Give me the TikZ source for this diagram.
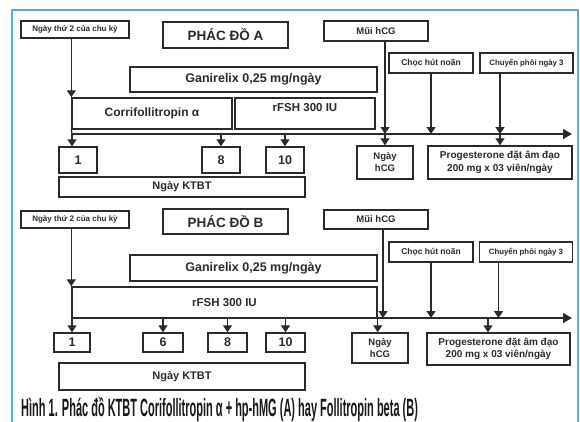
\documentclass[tikz,border=0pt]{standalone}
\usepackage{fontspec}
\setmainfont{Liberation Sans}
\newfontfamily\capfont[FakeStretch=0.44]{Liberation Sans}
\usetikzlibrary{arrows.meta}
\definecolor{framecol}{HTML}{5AACE0}
\definecolor{ink}{HTML}{2A2A2A}
\begin{document}
\begin{tikzpicture}[x=1pt,y=-1pt,
 box/.style={draw=ink, line width=1.4pt, fill=white, inner sep=0pt, align=center, text=ink},
 fs/.style={font=\bfseries\fontsize{#1}{#1}\selectfont},
 conn/.style={draw=ink, line width=1.3pt},
 arr/.style={conn, -{Triangle[width=9pt,length=7pt]}},
 bigarr/.style={conn, -{Triangle[width=10pt,length=9pt]}},
 txt/.style={inner sep=0pt, text=ink},
]
\useasboundingbox (0,0) rectangle (580,421);
\fill[white] (0,0) rectangle (580,421);
\draw[framecol, line width=1.2pt] (12,430) -- (12,10) -- (578,10) -- (578,430);

% ---------- Protocol A ----------
\node[box, fs=8, minimum width=108, minimum height=17] (ngay2A) at (75,29.5) {Ngày thứ 2 của chu kỳ};
\node[box, fs=13.5, minimum width=125, minimum height=26] (titleA) at (225.5,35) {PHÁC ĐỒ A};
\node[box, fs=12.5, minimum width=247, minimum height=25] (ganiA) at (253.5,79.5) {Ganirelix 0,25 mg/ngày};
\node[box, fs=12, minimum width=160, minimum height=31] (corriA) at (152,113.5) {Corrifollitropin α};
\node[box, minimum width=140, minimum height=31] (rfshA) at (305,113.5) {};
\node[txt, fs=11.5] (rfshAtext) at (305,108) {rFSH 300 IU};
\node[box, fs=9.5, minimum width=104, minimum height=20] (hcgA) at (376,31) {Mũi hCG};
\node[box, fs=8.5, minimum width=84, minimum height=20] (chocA) at (431,63) {Chọc hút noãn};
\node[box, fs=7.8, minimum width=93, minimum height=20] (cpA) at (526.5,63) {Chuyển phôi ngày 3};
\node[box, fs=12.5, minimum width=38, minimum height=26] (d1A) at (78,160) {1};
\node[box, fs=12.5, minimum width=38, minimum height=26] (d8A) at (221,160) {8};
\node[box, fs=12.5, minimum width=38, minimum height=26] (d10A) at (285,160) {10};
\node[box, fs=11, minimum width=246, minimum height=20] (ktbtA) at (182,187) {Ngày KTBT};
\node[box, font=\bfseries\fontsize{9.5}{12}\selectfont, minimum width=56, minimum height=33] (nhcgA) at (385,162.5) {Ngày\\hCG};
\node[box, font=\bfseries\fontsize{10}{12.5}\selectfont, minimum width=144, minimum height=33] (progA) at (500,162.5) {Progesterone đặt âm đạo\\200 mg x 03 viên/ngày};

\coordinate (tlA) at (72,134);
\coordinate (tlAend) at (572,134);
\draw[arr] (corriA.north west |- ngay2A.south) -- (corriA.north west);
\draw[conn] (corriA.south west) -- (tlA);
\draw[arr] (tlA) -- (d1A.north -| tlA);
\draw[bigarr] (tlA) -- (tlAend);
\draw[arr] (d8A.north |- tlA) -- (d8A.north);
\draw[arr] (d10A.north |- tlA) -- (d10A.north);
\draw[arr] (nhcgA.north |- hcgA.south) -- (nhcgA.north |- tlA);
\draw[arr] (nhcgA.north |- tlA) -- (nhcgA.north);
\draw[arr] (chocA.south) -- (chocA.south |- tlA);
\draw[arr] (progA.north |- cpA.south) -- (progA.north |- tlA);
\draw[arr] (progA.north |- tlA) -- (progA.north);

% ---------- Protocol B ----------
\node[box, fs=8, minimum width=108, minimum height=17] (ngay2B) at (75,219.5) {Ngày thứ 2 của chu kỳ};
\node[box, fs=13.5, minimum width=125, minimum height=25] (titleB) at (225.5,221.5) {PHÁC ĐỒ B};
\node[box, fs=12.5, minimum width=247, minimum height=26] (ganiB) at (253.5,268) {Ganirelix 0,25 mg/ngày};
\node[box, fs=11.5, minimum width=305, minimum height=31] (rfshB) at (224.5,302.5) {rFSH 300 IU};
\node[box, fs=9.5, minimum width=104, minimum height=19] (hcgB) at (376,219.5) {Mũi hCG};
\node[box, fs=8.5, minimum width=84, minimum height=20] (chocB) at (431,252) {Chọc hút noãn};
\node[box, fs=7.8, minimum width=93, minimum height=20] (cpB) at (526,252) {Chuyển phôi ngày 3};
\node[box, fs=12.5, minimum width=36, minimum height=19] (d1B) at (72,342.5) {1};
\node[box, fs=12.5, minimum width=40, minimum height=19] (d6B) at (163,342.5) {6};
\node[box, fs=12.5, minimum width=39, minimum height=19] (d8B) at (227.5,342.5) {8};
\node[box, fs=12.5, minimum width=39, minimum height=19] (d10B) at (285.5,342.5) {10};
\node[box, fs=11, minimum width=246, minimum height=27] (ktbtB) at (182,376.5) {Ngày KTBT};
\node[box, font=\bfseries\fontsize{9.5}{12}\selectfont, minimum width=56, minimum height=30] (nhcgB) at (380,348) {Ngày\\hCG};
\node[box, font=\bfseries\fontsize{10}{12.5}\selectfont, minimum width=143, minimum height=32] (progB) at (498.5,349) {Progesterone đặt âm đạo\\200 mg x 03 viên/ngày};

\coordinate (tlB) at (72,318);
\coordinate (tlBend) at (572,318);
\coordinate (hxB) at ([xshift=7pt]hcgB.south);
\coordinate (pxB) at ([xshift=-10.5pt]progB.north);
\draw[arr] (rfshB.north west |- ngay2B.south) -- (rfshB.north west);
\draw[arr] (tlB) -- (d1B.north);
\draw[bigarr] (tlB) -- (tlBend);
\draw[arr] (d6B.north |- tlB) -- (d6B.north);
\draw[arr] (d8B.north |- tlB) -- (d8B.north);
\draw[arr] (d10B.north |- tlB) -- (d10B.north);
\draw[arr] (hxB) -- (hxB |- tlB);
\draw[arr] (rfshB.south east) -- (rfshB.south east |- nhcgB.north);
\draw[arr] (chocB.south) -- (chocB.south |- tlB);
\draw[arr] (progB.north |- cpB.south) -- (progB.north |- tlB);
\draw[arr] (pxB |- tlB) -- (pxB);

% ---------- Caption ----------
\node[anchor=base west, inner sep=0pt, text=black!90, font=\capfont\bfseries\fontsize{25}{25}\selectfont] (cap) at (21,416) {Hình 1. Phác đồ KTBT Corifollitropin α + hp-hMG (A) hay Follitropin beta (B)};
\end{tikzpicture}
\end{document}
